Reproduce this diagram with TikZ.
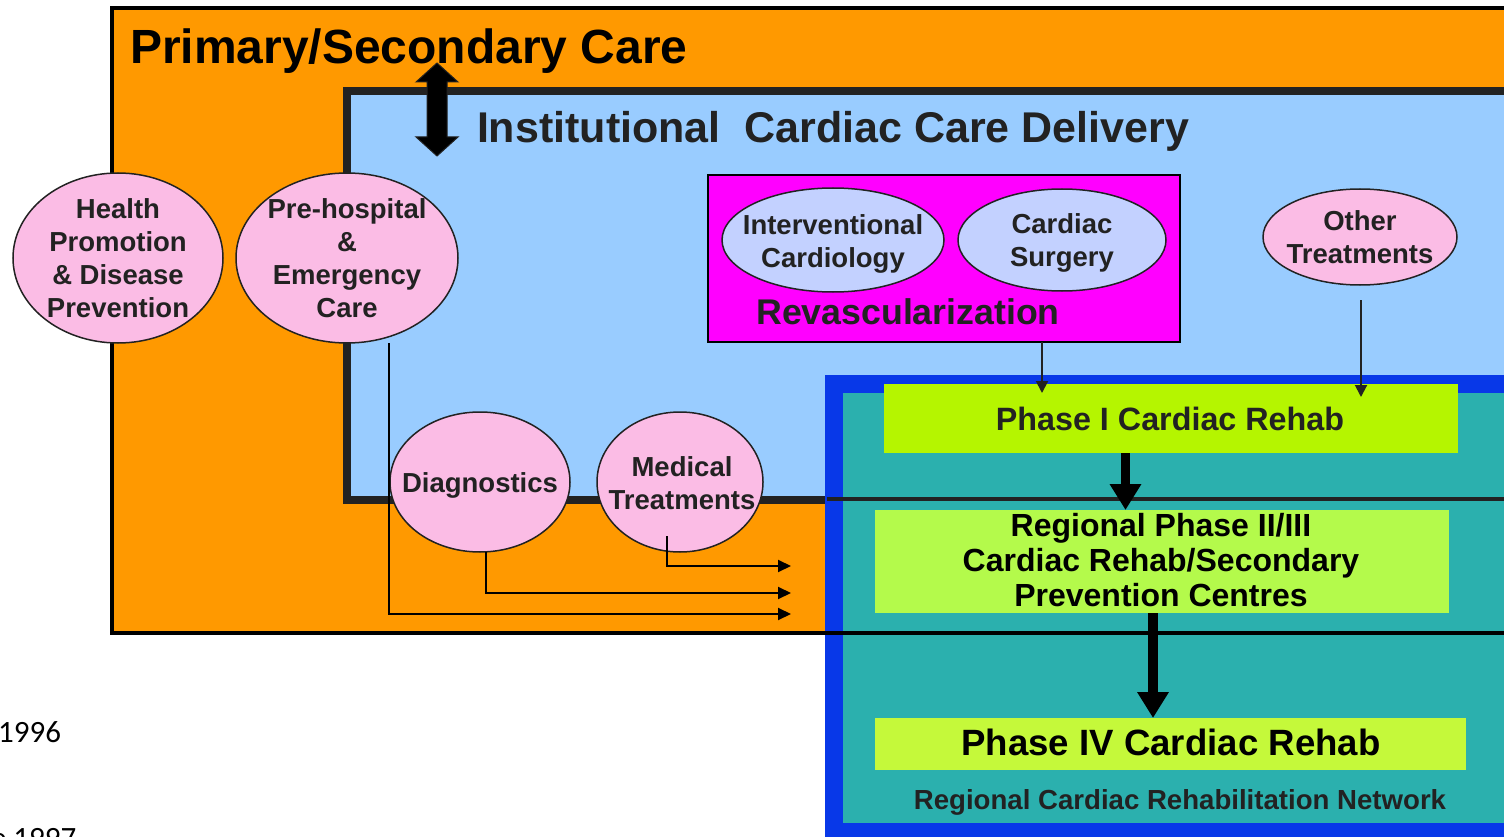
\documentclass[tikz,border=0pt]{standalone}
\usepackage{fontspec}
\setmainfont{Liberation Sans}
\newfontfamily\calfont{Carlito}
\usetikzlibrary{shapes.geometric,arrows.meta,calc}
\definecolor{orng}{HTML}{FF9900}
\definecolor{lblue}{HTML}{99CCFF}
\definecolor{pnk}{HTML}{FBBCE5}
\definecolor{mgnt}{HTML}{FF00FF}
\definecolor{lav}{HTML}{C3D1FF}
\definecolor{netblue}{HTML}{0838E8}
\definecolor{tealc}{HTML}{2BB0AE}
\definecolor{phone}{HTML}{B5F500}
\definecolor{phtwo}{HTML}{B4FA4B}
\definecolor{phfour}{HTML}{C5F93A}
\definecolor{dk}{HTML}{222222}
\begin{document}
\begin{tikzpicture}[x=1pt,y=-1pt,
  every node/.style={inner sep=0pt, outer sep=0pt},
  box/.style={rectangle, anchor=north west, inner sep=0pt},
  pell/.style={ellipse, draw=dk, line width=1.5pt, fill=pnk, inner sep=0pt},
  lell/.style={ellipse, draw=dk, line width=1.5pt, fill=lav, inner sep=0pt},
  etext/.style={font=\fontsize{27.5}{33}\selectfont\bfseries, text=dk, align=center},
  thin/.style={dk, line width=2pt, -{Triangle[length=12pt,width=12pt]}},
  elbow/.style={black, line width=2pt, -{Triangle[length=13pt,width=12pt]}},
  thick/.style={black, line width=9.5pt, -{Triangle[length=26pt,width=30pt]}}
]
\useasboundingbox (0,0) rectangle (1504,837);
\begin{scope}
\clip (0,0) rectangle (1504,837);
% containers
\node[box, fill=orng, draw=black, line width=4pt, minimum width=1420pt, minimum height=625pt] (prim) at (112,8) {};
\node[box, fill=lblue, draw=dk, line width=8pt, minimum width=1200pt, minimum height=409pt] (inst) at (347,91) {};
\node[box, fill=netblue, minimum width=700pt, minimum height=480pt] (net) at (825,375) {};
\node[box, fill=tealc, minimum width=700pt, minimum height=430pt] (netin) at (843,393) {};
\draw[dk, line width=4pt] (827,498.5) -- (1504,498.5);
\draw[black, line width=4pt] (825,633) -- (1504,633);

% titles
\node[anchor=base west, font=\fontsize{48}{58}\selectfont\bfseries] (ttl) at (130,64) {Primary/Secondary Care};
\node[anchor=base west, font=\fontsize{43}{52}\selectfont\bfseries, text=dk] (ttlb) at (477,143) {Institutional\ \ Cardiac Care Delivery};

% double arrow
\draw[dk, line width=1pt, fill=black] (437,63) -- (458,82) -- (447,82) -- (447,137) -- (458,137) -- (437,156) -- (416,137) -- (427,137) -- (427,82) -- (416,82) -- cycle;

% ellipses
\node[pell, minimum width=210pt, minimum height=170pt] (hp) at (118,258) {};
\node[etext] at (hp) {Health\\Promotion\\\& Disease\\Prevention};
\node[pell, minimum width=222pt, minimum height=170pt] (pre) at (347,258) {};
\node[etext] at (pre) {Pre-hospital\\\&\\Emergency\\Care};
\node[pell, minimum width=180pt, minimum height=140pt] (diag) at (480,482) {};
\node[etext] at ($(diag)+(0,3)$) {Diagnostics};
\node[pell, minimum width=166pt, minimum height=140pt] (med) at (680,482) {};
\node[etext] at ($(med)+(2,1)$) {Medical\\Treatments};
\node[pell, minimum width=194pt, minimum height=96pt] (oth) at (1360,237) {};
\node[etext] at ($(oth)+(0,0)$) {Other\\Treatments};

% revascularization
\node[box, fill=mgnt, draw=black, line width=2pt, minimum width=472pt, minimum height=167pt] (rev) at (708,175) {};
\node[lell, minimum width=222pt, minimum height=104pt] (ic) at (833,240) {};
\node[etext] at ($(ic)+(0,4)$) {Interventional\\Cardiology};
\node[lell, minimum width=208pt, minimum height=102pt] (cs) at (1062,240) {};
\node[etext] at ($(cs)+(0,3)$) {Cardiac\\Surgery};
\node[font=\fontsize{35.7}{42}\selectfont\bfseries, text=dk] (revt) at (908,312) {Revascularization};

% rehab phases
\node[box, fill=phone, minimum width=574pt, minimum height=69pt] (p1) at (884,384) {};
\node[font=\fontsize{32.3}{38}\selectfont\bfseries, text=dk] at (1170,419) {Phase I Cardiac Rehab};
\node[box, fill=phtwo, minimum width=574pt, minimum height=103pt] (reg) at (875,510) {};
\node[font=\fontsize{32}{35}\selectfont\bfseries, text=black, align=center] at (1161,560) {Regional Phase II/III\\Cardiac Rehab/Secondary\\Prevention Centres};
\node[box, fill=phfour, minimum width=591pt, minimum height=52pt] (p4) at (875,718) {};
\node[font=\fontsize{36.6}{42}\selectfont\bfseries, text=black] at (1171,742) {Phase IV Cardiac Rehab};
\node[font=\fontsize{27.6}{33}\selectfont\bfseries, text=dk] (netlbl) at (1180,802) {Regional Cardiac Rehabilitation Network};

% connectors
\draw[thin] ($(rev.south west)+(334,0)$) -- ($(p1.north west)+(158,9)$);
\draw[thin] ($(oth.south)+(1,15)$) -- ($(p1.north west)+(477,13)$);
\draw[thick] ($(p1.south west)+(241.5,0)$) -- ($(reg.north west)+(250.5,0)$);
\draw[thick] ($(reg.south west)+(278,0)$) -- ($(p4.north west)+(278,0)$);

\coordinate (ta) at (791,566);
\coordinate (tb) at (791,593);
\coordinate (tc) at (791,614);
\draw[elbow] ($(med.center)+(-13,54)$) |- (ta);
\draw[elbow] ($(diag.south)+(6,0)$) |- (tb);
\draw[elbow] ($(pre.south)+(42,0)$) |- (tc);

% side texts
\node[anchor=base east, font=\calfont\fontsize{31}{36}\selectfont, text=black] (y96) at (61,742) {1996};
\node[anchor=base west, font=\calfont\fontsize{31}{36}\selectfont, text=black] (y97) at (-9,848) {e 1997};
\end{scope}
\end{tikzpicture}
\end{document}
